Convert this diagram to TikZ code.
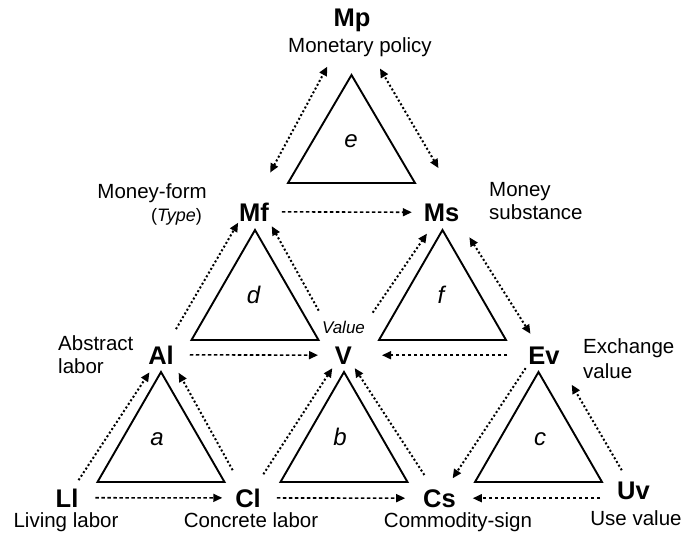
\documentclass[tikz,border=0pt]{standalone}
\usepackage{fontspec}
\setmainfont{Liberation Sans}
\usetikzlibrary{arrows.meta}

\begin{document}
\begin{tikzpicture}[x=1pt, y=-1pt,
		>={Triangle[length=9pt,width=8pt]},
		lab/.style = {font=\fontsize{25.5}{28}\selectfont\bfseries, inner sep=0pt, outer sep=0pt, anchor=base},
		txt/.style = {font=\fontsize{20.5}{23}\selectfont, inner sep=0pt, anchor=base},
		trl/.style = {font=\fontsize{24}{26}\selectfont\itshape, inner sep=0pt, anchor=base},
		tri/.style = {line width=1.9pt},
		hdash/.style = {->, line width=1.6pt, dash pattern=on 3.5pt off 2.5pt},
		ddot/.style = {line width=2pt, dash pattern=on 2pt off 2.3pt}]
		\useasboundingbox (0,0) rectangle (683,538);
		% triangles
		\draw[tri] (351.5,75) -- (288,183) -- (415,183) -- cycle;
		\draw[tri] (255,230) -- (191.5,340) -- (318.5,340) -- cycle;
		\draw[tri] (442.5,230) -- (379,340) -- (506,340) -- cycle;
		\draw[tri] (161,372) -- (97.5,482) -- (224.5,482) -- cycle;
		\draw[tri] (344,372) -- (280.5,482) -- (407.5,482) -- cycle;
		\draw[tri] (538.5,372) -- (475,482) -- (602,482) -- cycle;
		\node[trl] (tE) at (351,147) {e};
		\node[trl] (tD) at (253.5,303) {d};
		\node[trl] (tF) at (441,303) {f};
		\node[trl] (tA) at (157,445) {a};
		\node[trl] (tB) at (340,445) {b};
		\node[trl] (tC) at (540,445) {c};
		% concepts
		\node[lab] (Mp) at (352,27) {Mp};
		\node[lab] (Mf) at (254,221) {Mf};
		\node[lab] (Ms) at (441.5,221) {Ms};
		\node[lab] (Al) at (161,364) {Al};
		\node[lab] (V) at (343.5,364) {V};
		\node[lab] (Ev) at (544,364) {Ev};
		\node[lab] (Ll) at (67,507) {Ll};
		\node[lab] (Cl) at (248,507) {Cl};
		\node[lab] (Cs) at (439.5,507) {Cs};
		\node[lab] (Uv) at (633.5,499) {Uv};
		% descriptions
		\node[txt] (mpText) at (360,52) {Monetary policy};
		\node[txt, anchor=north east, align=right] (mfText) at (207,183) {Money-form\\{\fontsize{18}{20}\selectfont(\textit{Type})\rule{5pt}{0pt}}};
		\node[txt, anchor=north west, align=left] (msText) at (489,182) {Money\\substance};
		\node[txt, anchor=north west, align=left] (alText) at (58,335) {Abstract\\labor};
		\node[txt, anchor=north west, align=left] (evText) at (583,338) {Exchange\\[2pt]value};
		\node[font=\fontsize{17}{19}\selectfont\itshape, inner sep=0pt, anchor=base] (vText) at (343.5,333) {Value};
		\node[txt] (llText) at (66,527) {Living labor};
		\node[txt] (clText) at (251,527) {Concrete labor};
		\node[txt] (csText) at (458,527) {Commodity-sign};
		\node[txt] (uvText) at (636,525) {Use value};
		% horizontal arrows
		\draw[hdash, shorten <=17pt, shorten >=13pt] (Ll) -- (Cl);
		\draw[hdash, shorten <=16pt, shorten >=18pt] (Cl) -- (Cs);
		\draw[hdash, shorten <=17pt, shorten >=17pt] (Uv.west |- Cs) -- (Cs);
		\draw[hdash, shorten <=16pt, shorten >=17pt] (Al) -- (V);
		\draw[hdash, shorten <=21pt, shorten >=30pt] (Ev) -- (V);
		\draw[hdash, shorten <=13pt, shorten >=12pt] (Mf) -- (Ms);
		% dotted arrows
		\draw[ddot, ->, shorten <=10pt, shorten >=10pt] (Ll) -- (Al);
		\draw[ddot, ->, shorten <=21pt, shorten >=10pt] (Cl) -- (Al.south east);
		\draw[ddot, ->, shorten <=17pt, shorten >=5pt] (Cl) -- (V.south west);
		\draw[ddot, ->, shorten <=17pt, shorten >=5pt] (Cs) -- (V.south east);
		\draw[ddot, ->, shorten <=5pt, shorten >=13pt] (Ev.south west) -- (Cs);
		\draw[ddot, ->, shorten <=13pt, shorten >=24pt] (Uv) -- (Ev.south east);
		\draw[ddot, ->, shorten <=19pt, shorten >=2pt] (Al) -- (Mf.south west);
		\draw[ddot, ->, shorten <=41pt, shorten >=6pt] (V) -- (Mf.south east);
		\draw[ddot, ->, shorten <=41pt, shorten >=15pt] (V) -- (Ms);
		\draw[ddot, <->, shorten <=19pt, shorten >=15pt] (Ms.south east) -- (Ev);
		\draw[ddot, <->, shorten <=34pt, shorten >=39pt] (Mf.north) -- (Mp);
		\draw[ddot, <->, shorten <=41pt, shorten >=42pt] (Ms.north east) -- (Mp);
	\end{tikzpicture}
\end{document}
